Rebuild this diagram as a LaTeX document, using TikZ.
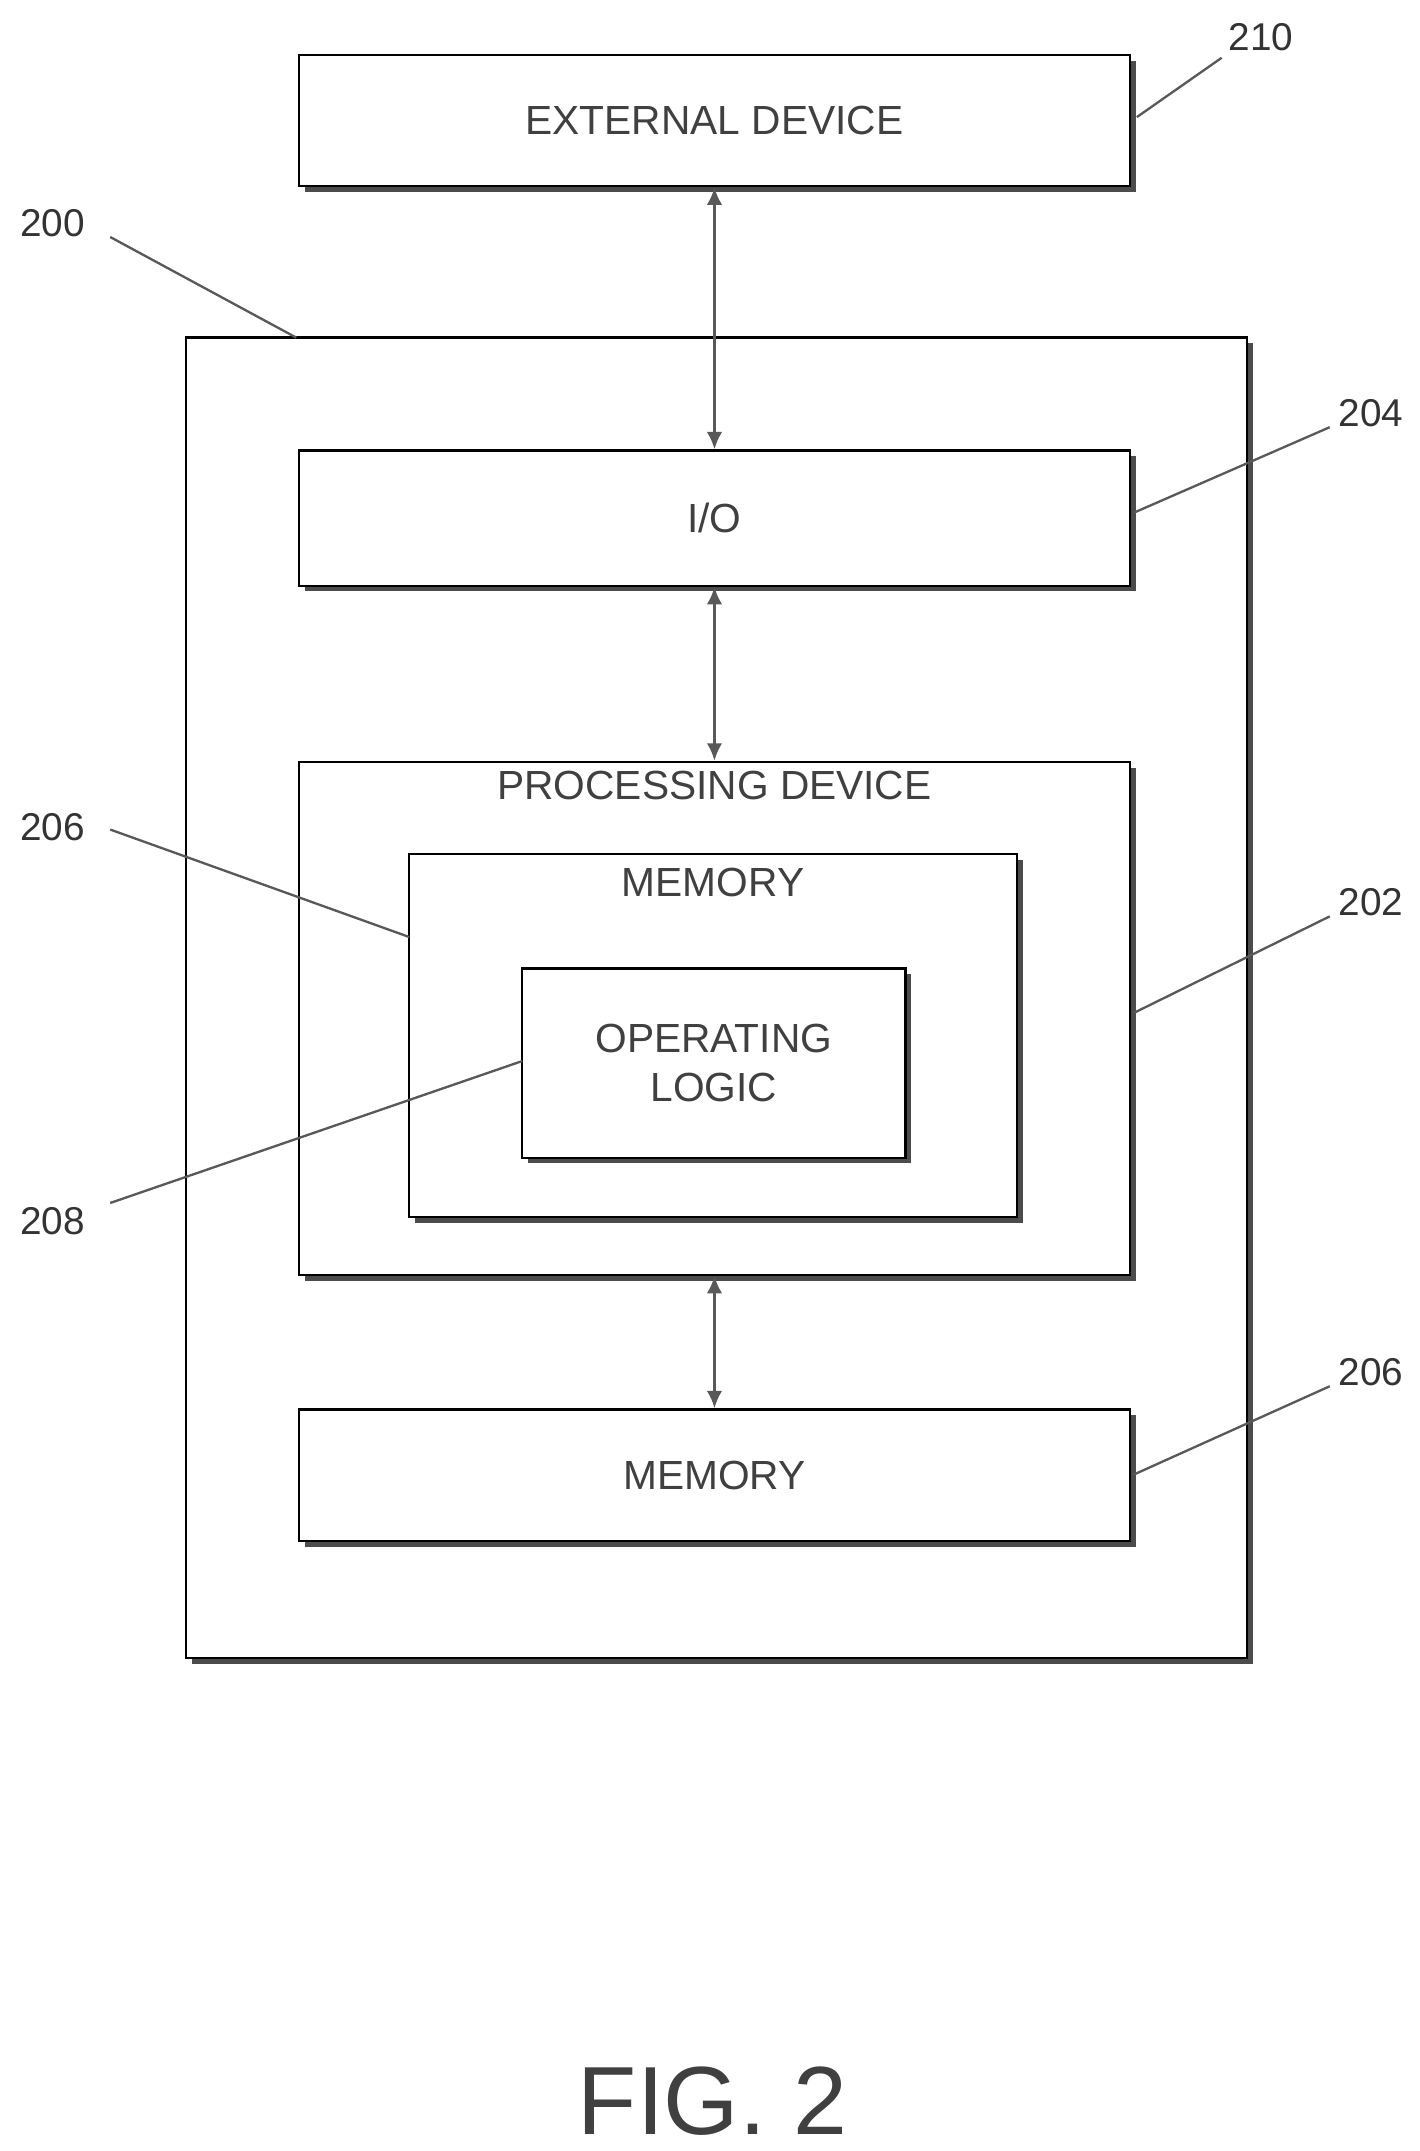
\documentclass[tikz,border=0pt]{standalone}
\usepackage{fontspec}
\setmainfont{Liberation Sans}
\usetikzlibrary{shadows,arrows.meta}
\begin{document}
\begin{tikzpicture}[x=0.025cm, y=-0.025cm,
    box/.style = {draw, line width=1.2pt, fill=white, inner sep=0pt,
        drop shadow={shadow xshift=3pt, shadow yshift=-3pt, fill=gray!60!black, opacity=1}},
    txt/.style = {font=\fontsize{21}{25}\selectfont, color=black!75},
    num/.style = {font=\fontsize{20}{24}\selectfont, color=black!80},
    lead/.style = {line width=1.2pt, gray!70!black},
    link/.style = {{Latex[length=9pt,width=8pt]}-{Latex[length=9pt,width=8pt]}, line width=1.5pt, gray!70!black}
  ]
  \useasboundingbox (0,0) rectangle (1030,1561);
  % boxes
  \node[box, minimum width=15.08cm, minimum height=2.38cm] (ext) at (518.5,87.5) {};
  \node[txt] at (ext) {EXTERNAL DEVICE};
  \node[box, minimum width=19.25cm, minimum height=23.95cm] (sys) at (520,724) {};
  \node[box, minimum width=15.08cm, minimum height=2.45cm] (io) at (518.5,376) {};
  \node[txt] at (io) {I/O};
  \node[box, minimum width=15.08cm, minimum height=9.3cm] (proc) at (518.5,739) {};
  \node[txt, below=2pt] at (proc.north) {PROCESSING DEVICE};
  \node[box, minimum width=11.03cm, minimum height=6.58cm] (mem) at (517.5,751.5) {};
  \node[txt, below=4pt] at (mem.north) {MEMORY};
  \node[box, minimum width=6.95cm, minimum height=3.43cm] (logic) at (518,771.5) {};
  \node[txt, align=center] at (logic) {OPERATING\\LOGIC};
  \node[box, minimum width=15.08cm, minimum height=2.38cm] (mem2) at (518.5,1070.5) {};
  \node[txt] at (mem2) {MEMORY};
  % connectors
  \draw[link] (ext.south) -- (io.north);
  \draw[link] (io.south) -- (proc.north);
  \draw[link] (proc.south) -- (mem2.north);
  % reference numerals
  \node[num] (n210) at (915,27) {210};
  \node[num] (n200) at (38,162) {200};
  \node[num] (n204) at (995,300) {204};
  \node[num] (n206a) at (38,600) {206};
  \node[num] (n202) at (995,655) {202};
  \node[num] (n208) at (38,886) {208};
  \node[num] (n206b) at (995,996) {206};
  \coordinate (c210) at (825,85);
  \coordinate (c200) at (215,245);
  \coordinate (c204) at (823,372);
  \coordinate (c206a) at (297,680);
  \coordinate (c202) at (823,735);
  \coordinate (c208) at (379,770);
  \coordinate (c206b) at (823,1070);
  \draw[lead] (c210) -- (n210.south west);
  \draw[lead] (c200) -- (80,172);
  \draw[lead] (c204) -- (965,310);
  \draw[lead] (c206a) -- (80,602);
  \draw[lead] (c202) -- (965,665);
  \draw[lead] (c208) -- (80,873);
  \draw[lead] (c206b) -- (965,1006);
  \node[font=\fontsize{50}{60}\selectfont, color=black!75] (fig) at (517,1525) {FIG. 2};
\end{tikzpicture}
\end{document}
